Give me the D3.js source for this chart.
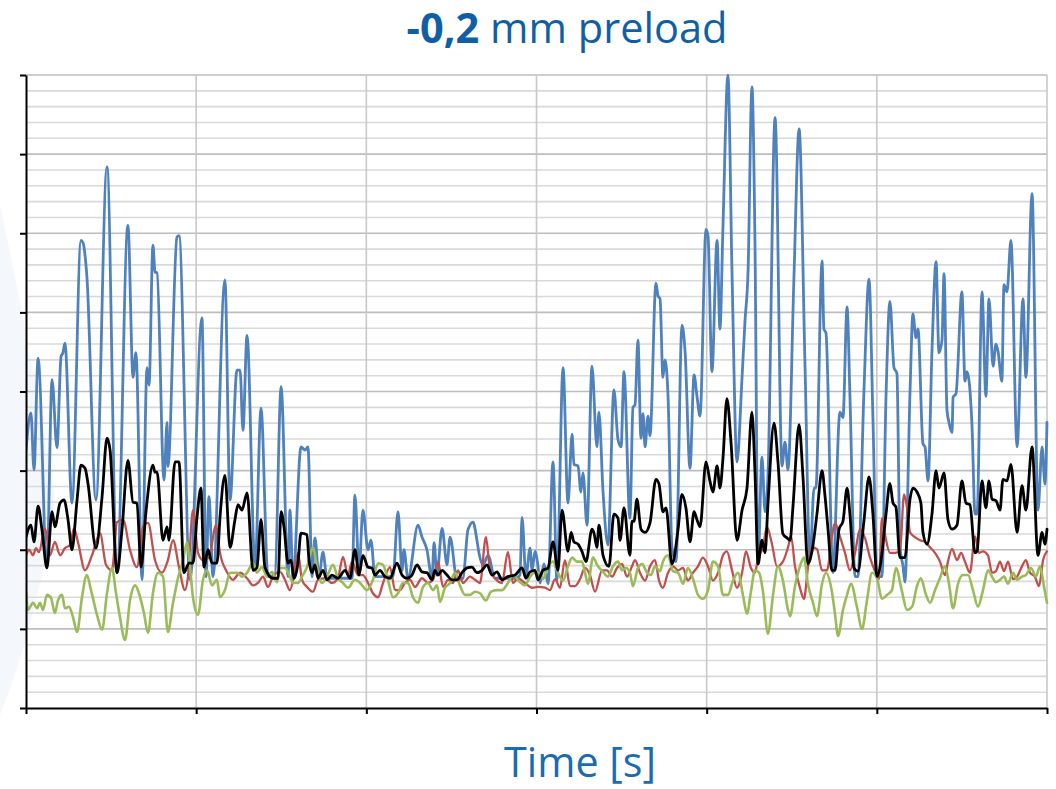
<!DOCTYPE html>
<html>
<head>
<meta charset="utf-8">
<script src="https://cdn.jsdelivr.net/npm/d3@7"></script>
<style>
  html, body { margin: 0; padding: 0; background: #ffffff; }
  svg { display: block; }
</style>
</head>
<body>
<svg id="chart" width="1056" height="789"></svg>
<script>
// Time axis (s) and signal axis (arbitrary units); ticks are drawn unlabeled
const timeTicks = [0, 10, 20, 30, 40, 50, 60];
const valueTicks = [0, 10, 20, 30, 40, 50, 60, 70, 80];
const minorStep = 2;

const titleBold = "-0,2";
const titleRest = " mm preload";
const xTitle = "Time [s]";

// [time, value] samples per series
const seriesBlue = [[0,32.6],[0.29,37.3],[0.47,30.1],[0.71,44.2],[1.23,17.8],[1.53,41.5],[1.82,32.9],[2.06,44.4],[2.17,44.9],[2.29,46.1],[2.70,25.9],[3.23,59.1],[3.35,58.8],[3.58,54.5],[4.11,26.3],[4.76,68.4],[5.35,17.1],[5.99,61.0],[6.29,41.8],[6.46,44.9],[6.82,16.2],[7.11,43.0],[7.23,40.8],[7.46,58.5],[7.58,55.1],[7.70,55.0],[8.11,28.8],[8.29,36.1],[8.34,30.5],[8.87,59.5],[8.99,59.7],[9.64,16.2],[10.34,49.3],[10.58,16.6],[10.75,26.7],[10.99,16.6],[11.69,54.1],[11.99,26.3],[12.40,42.7],[12.58,42.7],[12.75,35.1],[12.99,47.1],[13.46,17.8],[13.81,37.9],[14.22,16.6],[14.63,16.8],[14.99,40.6],[15.40,16.6],[15.51,25.0],[15.69,16.2],[16.16,33.0],[16.40,32.6],[16.57,33.0],[16.81,16.6],[16.98,21.5],[17.22,16.6],[17.45,19.7],[17.69,16.4],[18.16,16.4],[18.75,16.4],[19.16,16.4],[19.33,26.9],[19.57,17.4],[19.80,25.0],[20.10,20.0],[20.27,21.2],[20.51,16.6],[21.10,16.6],[21.57,16.6],[21.86,24.8],[22.10,17.4],[22.21,20.0],[22.45,16.4],[23.04,23.1],[23.27,21.6],[23.56,20.0],[23.86,16.4],[23.98,20.9],[24.15,16.8],[24.45,22.7],[24.74,18.1],[24.92,21.6],[25.33,16.2],[25.68,16.4],[25.97,22.5],[26.27,23.5],[26.50,21.2],[26.62,19.6],[26.86,18.1],[27.15,19.3],[27.56,16.4],[28.15,16.4],[28.74,16.4],[29.03,16.8],[29.15,24.1],[29.38,16.6],[29.62,20.2],[29.74,17.4],[29.91,19.8],[30.09,17.9],[30.21,15.8],[30.44,18.2],[30.68,15.7],[30.97,31.1],[31.20,16.1],[31.56,43.0],[31.85,25.9],[32.09,34.6],[32.20,30.8],[32.44,30.6],[32.61,27.3],[32.73,29.7],[32.97,23.1],[33.26,43.2],[33.55,33.0],[33.67,37.4],[33.91,27.3],[34.20,20.6],[34.55,40.2],[34.79,33.9],[34.97,33.0],[35.14,42.5],[35.49,24.0],[35.67,38.0],[35.79,38.3],[35.96,46.5],[36.14,34.1],[36.26,37.2],[36.38,33.0],[36.55,36.9],[36.67,34.4],[37.02,53.7],[37.14,52.1],[37.26,51.7],[37.43,41.8],[37.55,44.0],[37.73,39.4],[37.96,20.3],[38.20,18.5],[38.55,48.4],[38.73,45.1],[39.02,30.3],[39.26,42.1],[39.43,39.4],[39.61,36.9],[39.96,60.5],[40.08,59.7],[40.31,42.5],[40.61,59.1],[40.78,47.9],[40.96,61.0],[41.25,80.0],[41.49,55.0],[41.78,31.1],[42.08,41.8],[42.25,48.8],[42.43,55.0],[42.66,78.5],[42.84,58.6],[43.02,18.5],[43.25,31.7],[43.43,24.8],[43.60,29.2],[44.02,74.6],[44.43,30.6],[44.60,33.6],[44.78,30.1],[45.13,54.5],[45.43,73.2],[45.78,43.2],[46.07,18.5],[46.31,27.8],[46.42,27.8],[46.78,56.5],[46.89,47.9],[47.01,47.4],[47.42,17.1],[47.83,37.4],[48.01,36.7],[48.25,50.7],[48.42,39.4],[48.72,16.6],[48.89,16.6],[49.24,39.9],[49.54,54.2],[49.77,36.7],[50.01,16.6],[50.30,16.6],[50.54,39.4],[50.77,51.4],[51.01,43.0],[51.18,42.3],[51.36,20.3],[51.54,17.9],[51.65,15.9],[51.95,39.9],[52.12,49.8],[52.30,46.8],[52.42,47.9],[52.71,33.4],[52.83,33.0],[53.01,28.7],[53.24,45.1],[53.48,56.4],[53.65,44.9],[53.83,46.5],[53.95,54.9],[54.12,37.7],[54.24,36.1],[54.42,34.8],[54.48,39.3],[54.65,39.7],[55.00,52.6],[55.18,41.3],[55.30,42.5],[55.59,35.8],[55.77,24.5],[55.89,24.5],[56.18,52.6],[56.41,39.4],[56.59,51.7],[56.83,43.2],[57.00,46.0],[57.12,45.1],[57.35,41.3],[57.47,53.5],[57.65,52.6],[57.88,59.1],[58.24,33.0],[58.59,51.7],[58.76,41.8],[59.12,65.0],[59.47,25.0],[59.71,33.0],[59.88,28.3],[60.0,36.1]];

const seriesRed = [[0,19.3],[0.18,20.0],[0.41,19.3],[0.59,20.2],[0.76,19.7],[1.12,22.7],[1.41,19.3],[1.70,21.0],[2.00,19.3],[2.29,20.2],[2.59,20.6],[2.82,22.7],[3.06,20.9],[3.47,17.4],[3.88,19.3],[4.35,22.1],[4.70,18.1],[5.05,17.4],[5.35,23.5],[5.70,23.8],[6.11,20.0],[6.52,17.8],[6.88,22.9],[7.17,23.4],[7.58,18.7],[7.99,17.1],[8.34,18.7],[8.64,21.2],[8.99,17.8],[9.34,14.9],[9.52,16.6],[9.81,25.0],[10.11,19.6],[10.40,18.7],[10.75,19.0],[11.17,23.1],[11.40,19.6],[11.81,17.2],[12.16,16.2],[12.58,17.1],[12.99,16.4],[13.34,15.5],[13.63,15.8],[13.93,16.6],[14.22,15.3],[14.51,16.6],[14.93,17.2],[15.22,16.2],[15.51,14.9],[15.75,16.8],[15.98,19.6],[16.22,16.2],[16.51,15.3],[16.87,14.7],[17.16,16.2],[17.57,16.4],[17.98,15.8],[18.33,16.4],[18.63,19.1],[18.92,16.8],[19.16,18.5],[19.51,16.8],[19.80,16.8],[20.10,15.8],[20.39,14.5],[20.69,14.0],[20.98,15.8],[21.39,17.8],[21.69,14.9],[21.98,14.9],[22.27,15.8],[22.57,16.2],[22.86,15.3],[23.27,16.4],[23.62,15.8],[23.92,16.2],[24.21,18.5],[24.51,15.3],[24.80,16.2],[25.09,15.8],[25.39,17.4],[25.68,15.8],[26.09,16.6],[26.39,16.2],[26.68,15.8],[27.03,21.6],[27.27,17.4],[27.56,16.4],[27.97,15.8],[28.32,19.7],[28.62,15.8],[28.91,16.4],[29.32,15.8],[29.74,15.2],[30.09,15.3],[30.50,15.2],[30.79,14.9],[31.09,16.3],[31.38,15.2],[31.67,18.7],[31.97,15.4],[32.26,15.4],[32.56,16.3],[32.85,17.7],[33.14,16.8],[33.44,14.7],[33.85,17.4],[34.14,17.4],[34.44,16.6],[34.73,17.7],[35.02,18.2],[35.32,16.6],[35.61,17.9],[35.79,18.7],[36.08,17.1],[36.38,16.1],[36.67,17.9],[36.96,18.7],[37.20,16.1],[37.43,15.2],[37.73,17.1],[38.02,17.9],[38.32,17.4],[38.61,17.7],[38.90,16.1],[39.20,17.1],[39.49,17.9],[39.78,19.0],[40.08,17.9],[40.37,16.1],[40.67,17.1],[40.96,19.3],[41.19,19.8],[41.49,17.4],[41.78,15.2],[42.08,17.1],[42.31,19.8],[42.60,17.7],[42.84,17.1],[43.02,19.0],[43.31,20.3],[43.54,22.9],[43.84,20.7],[44.13,17.9],[44.48,18.5],[44.78,20.3],[44.96,21.7],[45.19,17.9],[45.48,15.2],[45.72,13.8],[45.95,17.7],[46.19,20.3],[46.48,20.1],[46.78,17.4],[47.07,17.4],[47.36,21.7],[47.54,23.4],[47.83,21.7],[48.13,19.6],[48.42,17.4],[48.72,19.6],[49.01,22.6],[49.30,21.5],[49.60,19.0],[49.89,17.3],[50.13,16.3],[50.30,24.0],[50.48,21.9],[50.77,19.6],[51.07,19.6],[51.36,19.8],[51.60,27.0],[51.77,25.4],[51.95,22.2],[52.24,21.6],[52.54,21.2],[52.83,21.0],[53.13,20.3],[53.42,19.6],[53.71,18.5],[54.01,16.8],[54.18,18.5],[54.42,20.1],[54.71,18.7],[54.95,19.6],[55.18,18.5],[55.47,17.1],[55.77,21.7],[56.00,19.6],[56.24,19.8],[56.53,19.3],[56.77,17.1],[57.00,17.3],[57.24,18.5],[57.47,17.3],[57.71,18.5],[58.00,16.3],[58.24,16.6],[58.53,17.9],[58.76,18.7],[59.00,17.1],[59.29,16.6],[59.53,15.4],[59.77,18.7],[60.0,19.8]];

const seriesGreen = [[0,14.7],[0.12,12.4],[0.41,13.3],[0.65,12.6],[0.82,13.3],[1.00,12.4],[1.23,14.3],[1.47,13.9],[1.70,12.0],[1.88,13.6],[2.12,14.3],[2.29,12.6],[2.53,12.8],[2.76,11.5],[3.00,9.6],[3.29,14.0],[3.58,16.8],[3.82,14.9],[4.17,11.8],[4.47,9.9],[4.76,14.5],[5.05,17.7],[5.29,14.5],[5.52,11.5],[5.82,8.6],[6.11,13.6],[6.41,15.5],[6.64,14.5],[6.93,12.0],[7.17,9.5],[7.46,14.5],[7.76,17.1],[8.05,16.6],[8.34,9.6],[8.64,13.3],[8.93,16.4],[9.23,18.7],[9.46,20.9],[9.64,17.8],[9.81,14.0],[10.11,11.8],[10.40,16.2],[10.64,17.4],[10.93,15.5],[11.22,16.2],[11.40,14.0],[11.69,14.9],[11.99,17.1],[12.40,17.1],[12.69,16.6],[12.99,17.1],[13.34,18.3],[13.57,17.1],[13.87,17.8],[14.16,16.6],[14.46,17.2],[14.75,15.9],[14.93,17.7],[15.22,17.7],[15.51,16.6],[15.69,15.8],[15.98,15.8],[16.22,16.6],[16.51,17.8],[16.87,20.3],[17.10,17.8],[17.39,15.8],[17.69,16.6],[18.04,18.1],[18.33,16.4],[18.63,15.8],[18.92,15.2],[19.33,16.2],[19.63,15.8],[20.04,14.9],[20.39,16.2],[20.69,18.3],[20.98,18.1],[21.27,16.2],[21.57,14.0],[21.86,14.5],[22.15,15.8],[22.45,15.8],[22.74,14.0],[23.04,13.3],[23.33,15.3],[23.62,15.8],[23.92,14.9],[24.15,15.5],[24.33,13.4],[24.62,15.2],[24.92,15.8],[25.21,17.1],[25.50,15.5],[25.80,14.3],[26.09,14.3],[26.39,14.7],[26.68,14.5],[27.03,13.6],[27.33,14.7],[27.68,14.9],[27.97,14.9],[28.32,15.8],[28.62,16.8],[29.03,15.9],[29.32,15.5],[29.62,16.6],[29.91,17.1],[30.21,17.1],[30.38,16.3],[30.68,17.9],[30.97,18.5],[31.26,17.1],[31.56,16.1],[31.85,17.9],[32.09,19.0],[32.38,18.5],[32.67,18.5],[32.85,17.1],[33.02,15.7],[33.32,19.0],[33.61,17.9],[33.91,17.2],[34.20,16.6],[34.49,17.9],[34.79,18.5],[35.02,17.4],[35.26,17.7],[35.49,17.1],[35.67,15.4],[35.96,17.7],[36.20,18.2],[36.49,17.1],[36.73,16.8],[36.96,17.9],[37.26,17.3],[37.43,18.5],[37.73,19.3],[38.02,17.3],[38.32,17.1],[38.61,15.7],[38.90,17.7],[39.20,16.3],[39.49,14.3],[39.78,13.8],[40.08,14.9],[40.37,18.5],[40.67,17.9],[40.96,14.3],[41.25,14.3],[41.55,16.1],[41.84,17.1],[42.13,14.3],[42.37,11.9],[42.60,14.7],[42.84,17.4],[43.08,17.1],[43.31,14.7],[43.60,9.4],[43.90,14.3],[44.19,17.9],[44.48,16.1],[44.78,12.4],[44.90,11.6],[45.19,15.4],[45.48,17.9],[45.72,19.0],[45.95,15.7],[46.25,13.3],[46.48,11.6],[46.78,15.7],[47.01,17.1],[47.36,14.7],[47.54,11.9],[47.72,9.1],[48.01,12.4],[48.25,14.3],[48.48,15.7],[48.83,12.8],[49.13,10.0],[49.42,13.6],[49.72,17.1],[50.01,16.4],[50.30,13.8],[50.60,14.3],[50.89,14.9],[51.12,17.7],[51.48,14.7],[51.77,12.4],[52.07,12.8],[52.36,15.4],[52.59,16.4],[52.89,14.3],[53.13,13.3],[53.42,14.9],[53.71,16.4],[54.01,17.9],[54.24,15.7],[54.48,12.6],[54.77,15.7],[55.06,16.8],[55.36,16.8],[55.65,14.9],[55.94,12.8],[56.24,14.9],[56.53,17.4],[56.77,16.6],[57.00,15.9],[57.24,16.2],[57.47,16.6],[57.71,15.7],[58.00,17.1],[58.24,16.2],[58.53,16.6],[58.76,16.8],[59.06,17.7],[59.35,16.6],[59.59,17.9],[59.82,15.4],[60.0,13.3]];

const seriesBlack = [[0,21.6],[0.29,23.1],[0.47,21.0],[0.71,25.5],[0.94,22.5],[1.23,17.7],[1.53,24.8],[1.70,22.9],[2.00,25.9],[2.23,26.3],[2.47,23.8],[2.70,20.0],[3.00,26.3],[3.23,30.7],[3.47,30.3],[3.64,28.4],[4.11,20.2],[4.47,26.7],[4.76,34.1],[4.94,32.6],[5.35,17.1],[5.64,22.5],[5.99,31.3],[6.29,26.0],[6.52,25.9],[6.76,17.8],[7.05,24.8],[7.46,30.7],[7.58,29.8],[7.70,29.8],[8.05,21.2],[8.29,22.9],[8.40,21.2],[8.76,31.1],[8.99,31.1],[9.28,17.1],[9.58,18.3],[9.81,18.3],[10.05,24.1],[10.28,27.8],[10.46,17.8],[10.70,20.0],[10.93,18.3],[11.22,18.3],[11.40,24.1],[11.69,29.4],[11.99,20.3],[12.28,23.8],[12.46,25.7],[12.69,25.0],[12.99,27.2],[13.34,17.4],[13.57,17.7],[13.81,23.8],[14.04,17.8],[14.51,16.4],[14.81,16.4],[14.99,24.8],[15.16,22.9],[15.40,18.3],[15.57,18.7],[15.75,16.4],[15.98,18.3],[16.16,22.1],[16.51,21.9],[16.63,18.7],[16.81,17.1],[16.98,18.1],[17.16,16.4],[17.45,17.4],[17.69,16.2],[17.98,16.8],[18.33,16.4],[18.75,17.4],[19.04,16.4],[19.33,20.0],[19.57,16.8],[19.80,19.3],[20.10,17.8],[20.33,17.7],[20.51,16.8],[20.80,17.4],[21.10,16.6],[21.39,16.4],[21.80,18.3],[22.10,16.8],[22.39,16.4],[22.68,16.8],[22.98,18.1],[23.27,17.2],[23.56,17.1],[23.86,16.2],[24.03,17.4],[24.21,16.8],[24.45,17.4],[24.74,16.8],[25.03,16.2],[25.33,16.2],[25.62,17.1],[25.92,17.7],[26.21,17.8],[26.50,17.1],[26.80,17.4],[27.09,18.1],[27.38,16.8],[27.68,17.2],[27.97,16.2],[28.32,16.6],[28.74,16.8],[29.15,17.7],[29.38,16.4],[29.62,17.2],[29.91,17.4],[30.09,16.2],[30.38,17.4],[30.68,17.7],[30.97,21.0],[31.26,17.4],[31.50,25.0],[31.85,19.8],[32.03,22.2],[32.20,21.0],[32.44,20.7],[32.67,19.8],[32.91,18.5],[33.26,22.6],[33.38,22.1],[33.55,20.3],[33.67,23.1],[33.91,19.3],[34.26,17.9],[34.55,24.5],[34.79,24.0],[34.91,21.2],[35.14,25.3],[35.49,19.3],[35.61,23.6],[35.73,23.6],[35.90,26.4],[36.14,22.6],[36.38,22.2],[36.67,23.4],[37.02,28.9],[37.20,28.3],[37.43,24.8],[37.61,25.3],[37.96,18.2],[38.32,22.6],[38.55,27.0],[38.78,25.3],[39.02,21.0],[39.26,24.8],[39.43,23.8],[39.61,22.9],[39.96,31.1],[40.19,28.7],[40.37,27.3],[40.61,30.6],[40.78,27.8],[40.96,31.6],[41.19,39.1],[41.43,33.6],[41.78,21.2],[42.08,25.0],[42.37,27.8],[42.66,37.4],[42.84,29.7],[43.02,18.2],[43.25,21.2],[43.43,19.6],[43.60,25.7],[43.96,36.0],[44.19,31.1],[44.48,22.0],[44.72,21.5],[44.90,21.2],[45.07,25.4],[45.43,35.8],[45.66,29.2],[45.95,18.2],[46.19,19.8],[46.48,24.5],[46.78,30.0],[46.95,26.9],[47.13,22.6],[47.36,17.4],[47.54,17.4],[47.78,22.6],[48.01,23.6],[48.25,27.8],[48.42,24.5],[48.66,17.7],[48.89,17.3],[49.24,23.6],[49.54,29.2],[49.77,24.5],[50.01,16.6],[50.24,18.5],[50.54,24.5],[50.77,28.4],[50.95,25.9],[51.12,25.4],[51.36,19.0],[51.65,19.0],[51.95,26.4],[52.12,27.8],[52.36,27.3],[52.59,25.9],[52.71,22.2],[52.95,20.7],[53.24,24.5],[53.48,30.0],[53.65,27.8],[53.95,29.7],[54.18,23.8],[54.42,22.6],[54.71,23.1],[55.00,28.7],[55.24,25.9],[55.47,25.7],[55.77,19.6],[55.89,19.8],[56.18,28.7],[56.41,25.3],[56.59,28.7],[56.77,26.4],[57.00,26.2],[57.24,25.0],[57.41,28.9],[57.65,28.7],[57.88,30.8],[58.24,22.2],[58.53,28.1],[58.76,25.0],[59.12,33.0],[59.47,19.3],[59.71,22.2],[59.88,20.7],[60.0,22.6]];

const svg = d3.select("#chart");
const plot = { left: 26, right: 1047, top: 75, bottom: 708 };

const x = d3.scaleLinear().domain([0, 60]).range([plot.left, plot.right]);
const y = d3.scaleLinear().domain([0, 80]).range([plot.bottom, plot.top]);

// faint slide decoration at the left edge
svg.append("path")
  .attr("d", "M0,205 C18,290 40,400 55,500 C42,590 22,660 0,715 Z")
  .attr("fill", "#f4f8fc");

// horizontal grid: minor lines then major lines
const minorVals = d3.range(minorStep, 80 + 0.001, minorStep).filter(v => v % 10 !== 0);
svg.append("g").selectAll("line").data(minorVals).join("line")
  .attr("x1", plot.left).attr("x2", plot.right)
  .attr("y1", d => y(d)).attr("y2", d => y(d))
  .attr("stroke", "#d9d9d9").attr("stroke-width", 1.6);

svg.append("g").selectAll("line").data(valueTicks.filter(v => v > 0)).join("line")
  .attr("x1", plot.left).attr("x2", plot.right)
  .attr("y1", d => y(d)).attr("y2", d => y(d))
  .attr("stroke", "#bdbdbd").attr("stroke-width", 1.6);

// vertical grid
svg.append("g").selectAll("line").data(timeTicks.filter(v => v > 0)).join("line")
  .attr("x1", d => x(d)).attr("x2", d => x(d))
  .attr("y1", plot.top).attr("y2", plot.bottom)
  .attr("stroke", "#c8c8c8").attr("stroke-width", 1.6);

// series
const line = d3.line()
  .x(d => x(d[0]))
  .y(d => y(d[1]))
  .curve(d3.curveMonotoneX);

svg.append("clipPath").attr("id", "plotClip")
  .append("rect")
  .attr("x", plot.left).attr("y", plot.top - 1)
  .attr("width", plot.right - plot.left + 2).attr("height", plot.bottom - plot.top + 1);

const seriesDefs = [
  { data: seriesBlue, color: "#4f81bd", width: 2.8 },
  { data: seriesRed, color: "#c0504d", width: 2.3 },
  { data: seriesGreen, color: "#9bbb59", width: 2.6 },
  { data: seriesBlack, color: "#000000", width: 2.8 }
];

const lines = svg.append("g").attr("clip-path", "url(#plotClip)");
seriesDefs.forEach(s => {
  lines.append("path")
    .datum(s.data)
    .attr("fill", "none")
    .attr("stroke", s.color)
    .attr("stroke-width", s.width)
    .attr("stroke-linejoin", "round")
    .attr("stroke-linecap", "round")
    .attr("d", line);
});

// axes (unlabeled ticks)
const yAxis = d3.axisLeft(y).tickValues(valueTicks).tickFormat("").tickSize(6).tickSizeOuter(0);
const xAxis = d3.axisBottom(x).tickValues(timeTicks).tickFormat("").tickSize(6).tickSizeOuter(0);

const gy = svg.append("g").attr("transform", `translate(${plot.left},0)`).call(yAxis);
const gx = svg.append("g").attr("transform", `translate(0,${plot.bottom})`).call(xAxis);
[gy, gx].forEach(g => {
  g.select(".domain").attr("stroke", "#000").attr("stroke-width", 2);
  g.selectAll(".tick line").attr("stroke", "#000").attr("stroke-width", 2);
});

// title
const title = svg.append("text")
  .attr("x", 567).attr("y", 43)
  .attr("text-anchor", "middle")
  .attr("font-family", "'Open Sans', 'Noto Sans', sans-serif")
  .attr("font-size", 38)
  .attr("fill", "#0f5fa6");
title.append("tspan").attr("font-weight", "bold").text(titleBold);
title.append("tspan").text(titleRest);
// fit the title to its intended width
const tw = title.node().getComputedTextLength();
title.attr("font-size", 38 * 321 / tw);

const xt = svg.append("text")
  .attr("x", 580).attr("y", 777)
  .attr("text-anchor", "middle")
  .attr("font-family", "'Open Sans', 'Noto Sans', sans-serif")
  .attr("font-size", 38)
  .attr("fill", "#1a6bb0")
  .text(xTitle);
const xw = xt.node().getComputedTextLength();
xt.attr("font-size", 38 * 152 / xw);
</script>
</body>
</html>
